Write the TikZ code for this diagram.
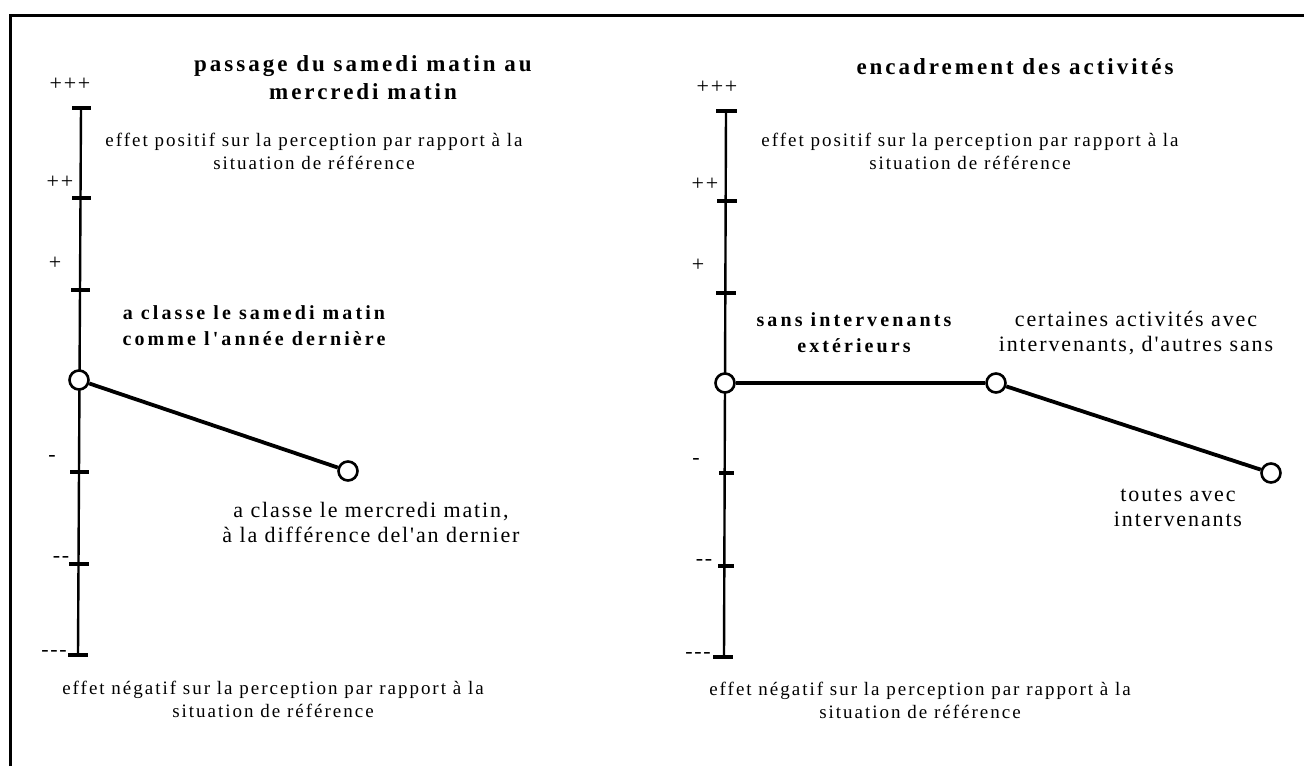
\documentclass[tikz,border=0pt]{standalone}
\usepackage{fontspec}
\setmainfont{Liberation Serif}
\newfontfamily\bodyfont[LetterSpace=10.5]{Liberation Serif}
\newfontfamily\labfont[LetterSpace=8.5]{Liberation Serif}
\newfontfamily\boldfont[LetterSpace=15.5,UprightFont={* Bold}]{Liberation Serif}
\newfontfamily\titlefont[LetterSpace=13,UprightFont={* Bold}]{Liberation Serif}
\newfontfamily\tickfont[LetterSpace=8]{Liberation Serif}
\begin{document}
\begin{tikzpicture}[x=1pt,y=-1pt,
  txt/.style={font=\bodyfont\fontsize{19}{23}\selectfont, align=center, inner sep=0pt},
  ntxt/.style={font=\labfont\fontsize{22}{25}\selectfont, align=center, inner sep=0pt},
  bld/.style={font=\boldfont\fontsize{20}{26}\selectfont, align=center, inner sep=0pt},
  ttl/.style={font=\titlefont\fontsize{23}{28}\selectfont, align=center, inner sep=0pt},
  lab/.style={font=\tickfont\fontsize{22}{22}\selectfont, inner sep=0pt},
  axisline/.style={line width=2.4pt},
  tick/.style={line width=3.5pt},
  link/.style={line width=3.8pt},
  pnt/.style={circle, draw, line width=2.6pt, fill=white, minimum size=19pt, inner sep=0pt}]
\useasboundingbox (0,0) rectangle (1304,766);
% frame
\draw[line width=3pt] (10,766) -- (10,15) -- (1304,15);

% ---------- left panel ----------
\coordinate (la1) at (81,108);
\coordinate (la2) at (78,655);
\draw[axisline] (la1) -- (la2);
\draw[tick] (72,108) -- (91,108);
\draw[tick] (72,198) -- (91,198);
\draw[tick] (71,290) -- (90,290);
\draw[tick] (70,472) -- (89,472);
\draw[tick] (69,564) -- (89,564);
\draw[tick] (68,655) -- (88,655);
\node[lab] (lp3) at (70,84) {+++};
\node[lab] (lp2) at (60,182) {++};
\node[lab] (lp1) at (55,263) {+};
\node[lab] (lm1) at (52,458) {-};
\node[lab] (lm2) at (61,559) {-{}-};
\node[lab] (lm3) at (54,653) {-{}-{}-};

\node[ttl] (ltitle) at (363,78) {passage du samedi matin au\\mercredi matin};
\node[txt] (lpos) at (314,151) {effet positif sur la perception par rapport à la\\situation de référence};
\node[txt] (lneg) at (273,699) {effet négatif sur la perception par rapport à la\\situation de référence};
\node[bld] (lsam) at (254,326) {a classe le samedi matin\\comme l'année dernière};
\node[ntxt] (lmer) at (371,522) {a classe le mercredi matin,\\à la différence del'an dernier};

\node[pnt] (lc1) at (79,380) {};
\node[pnt] (lc2) at (348,471) {};
\draw[link] (lc1) -- (lc2);

% ---------- right panel ----------
\coordinate (ra1) at (726,111);
\coordinate (ra2) at (724,657);
\draw[axisline] (ra1) -- (ra2);
\draw[tick] (716,111) -- (737,111);
\draw[tick] (717,201) -- (737,201);
\draw[tick] (716,293) -- (736,293);
\draw[tick] (719,473) -- (734,473);
\draw[tick] (718,566) -- (734,566);
\draw[tick] (713,657) -- (733,657);
\node[lab] (rp3) at (717,87) {+++};
\node[lab] (rp2) at (705,184) {++};
\node[lab] (rp1) at (698,265) {+};
\node[lab] (rm1) at (696,461) {-};
\node[lab] (rm2) at (704,562) {-{}-};
\node[lab] (rm3) at (698,655) {-{}-{}-};

\node[ttl] (rtitle) at (1015,67) {encadrement des activités};
\node[txt] (rpos) at (970,151) {effet positif sur la perception par rapport à la\\situation de référence};
\node[txt] (rneg) at (920,700) {effet négatif sur la perception par rapport à la\\situation de référence};
\node[bld] (rsans) at (854,333) {sans intervenants\\extérieurs};
\node[ntxt] (rcert) at (1136,333) {certaines activités avec\\intervenants, d'autres sans};
\node[ntxt] (rtout) at (1178,508) {toutes avec\\intervenants};

\node[pnt] (rc1) at (725,383) {};
\node[pnt] (rc2) at (996,383) {};
\node[pnt] (rc3) at (1271,473) {};
\draw[link] (rc1) -- (rc2);
\draw[link] (rc2) -- (rc3);
\end{tikzpicture}
\end{document}
